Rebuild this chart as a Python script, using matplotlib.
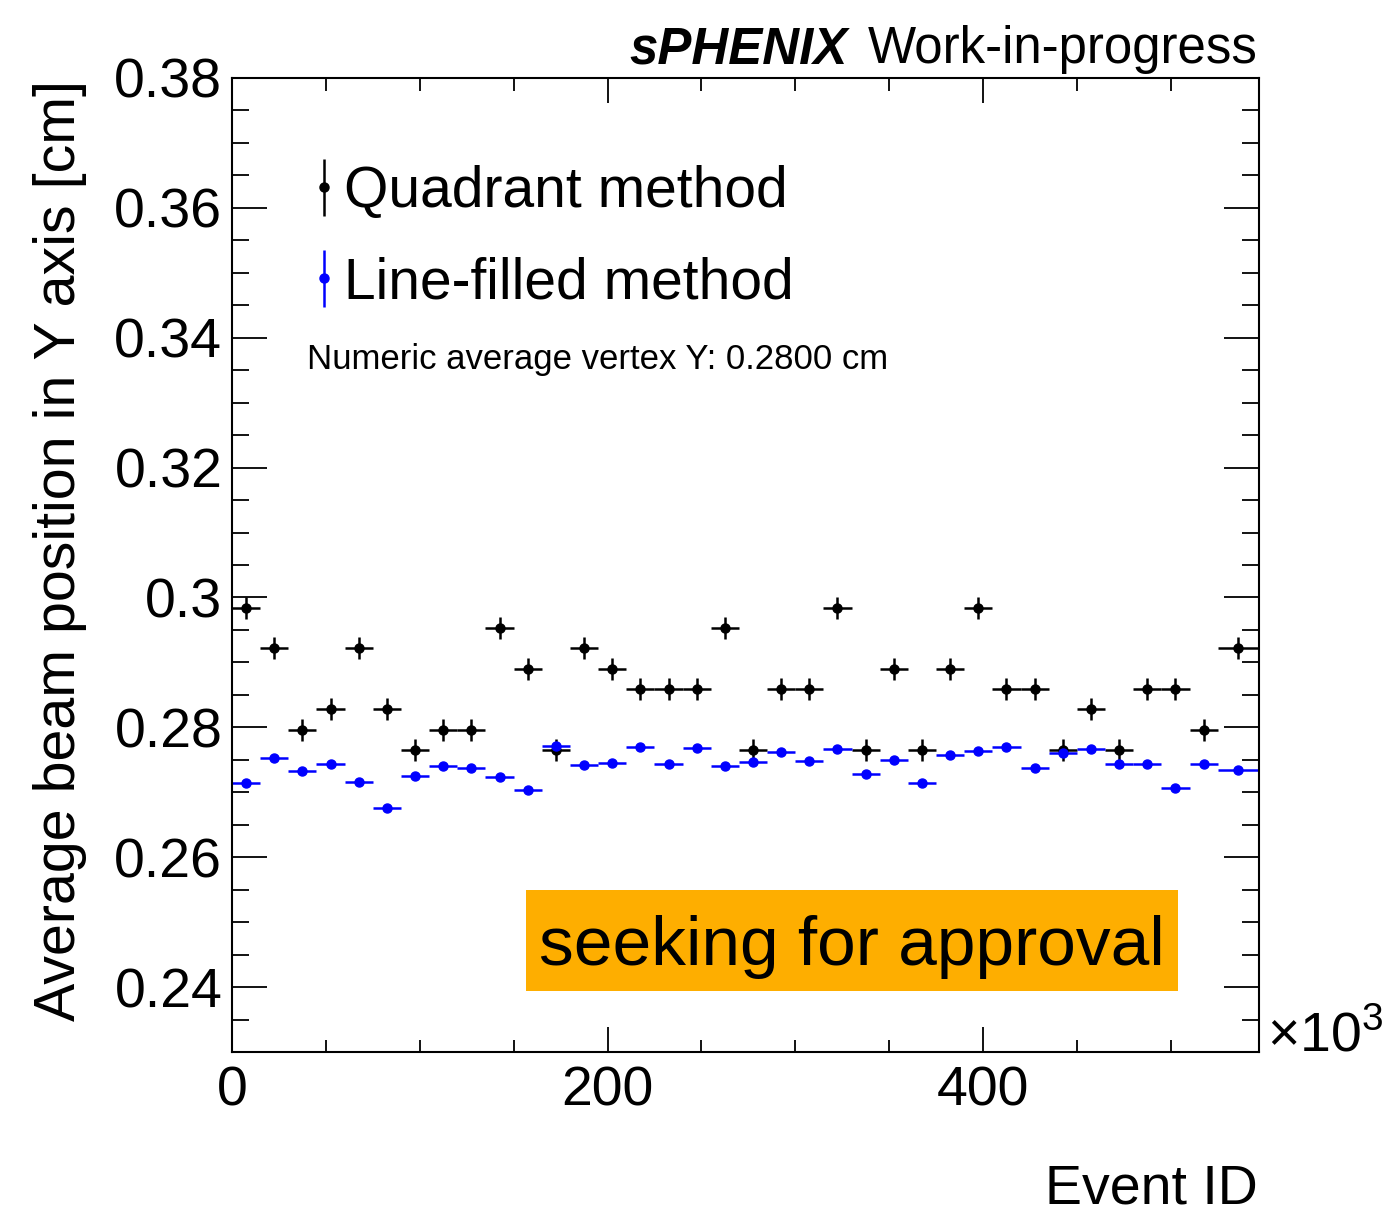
import numpy as np
import matplotlib
matplotlib.use("Agg")
import matplotlib.pyplot as plt
from matplotlib.ticker import MultipleLocator, FormatStrFormatter
from matplotlib.container import ErrorbarContainer
from matplotlib.legend_handler import HandlerErrorbar
from matplotlib.patches import Rectangle

plt.rcParams['font.family'] = ['Liberation Sans', 'DejaVu Sans']
plt.rcParams['mathtext.fontset'] = 'custom'
plt.rcParams['mathtext.rm'] = 'Liberation Sans'

# bin edges in units of 10^3 events (last bin is shorter/wider)
edges = np.append(np.arange(0, 526, 15), 547)

quadrant_y = [0.2984, 0.2922, 0.2796, 0.2828, 0.2922, 0.2828, 0.2765, 0.2796, 0.2796,
              0.2953, 0.2890, 0.2765, 0.2922, 0.2890, 0.2859, 0.2859, 0.2859, 0.2953,
              0.2765, 0.2859, 0.2859, 0.2984, 0.2765, 0.2890, 0.2765, 0.2890, 0.2984,
              0.2859, 0.2859, 0.2765, 0.2828, 0.2765, 0.2859, 0.2859, 0.2796, 0.2922]
quadrant_err = 0.00165

linefill_y = [0.2715, 0.2753, 0.2733, 0.2743, 0.2716, 0.2676, 0.2725, 0.2741, 0.2738,
              0.2723, 0.2704, 0.2771, 0.2742, 0.2745, 0.2769, 0.2743, 0.2768, 0.2741,
              0.2746, 0.2762, 0.2748, 0.2767, 0.2728, 0.2749, 0.2715, 0.2758, 0.2763,
              0.2769, 0.2738, 0.2760, 0.2766, 0.2743, 0.2743, 0.2707, 0.2744, 0.2734]
linefill_err = 0.0004

centers = 0.5 * (edges[:-1] + edges[1:])
halfw = 0.5 * np.diff(edges)

W, H = 1384, 1217
fig = plt.figure(figsize=(W / 100, H / 100), dpi=100)
ax = fig.add_axes([232 / W, 1 - 1052 / H, (1259 - 232) / W, (1052 - 78) / H])

h1 = ax.errorbar(centers, quadrant_y, xerr=halfw, yerr=quadrant_err, fmt='o', color='black',
                 ms=6.5, lw=1.8, capsize=0, label='Quadrant method')
h2 = ax.errorbar(centers, linefill_y, xerr=halfw, yerr=linefill_err, fmt='o', color='blue',
                 ms=6.5, lw=1.8, capsize=0, label='Line-filled method')

ax.set_xlim(0, 547)
ax.set_ylim(0.23, 0.38)
ax.xaxis.set_major_locator(MultipleLocator(200))
ax.xaxis.set_minor_locator(MultipleLocator(50))
ax.yaxis.set_major_locator(MultipleLocator(0.02))
ax.yaxis.set_minor_locator(MultipleLocator(0.005))
ax.yaxis.set_major_formatter(FormatStrFormatter('%g'))

for s in ax.spines.values():
    s.set_linewidth(1.5)
ax.tick_params(axis='both', which='both', direction='in', top=True, right=True,
               width=1.3, labelsize=40)
ax.tick_params(axis='x', which='major', length=18, pad=10)
ax.tick_params(axis='x', which='minor', length=9)
ax.tick_params(axis='y', which='major', length=25, pad=7)
ax.tick_params(axis='y', which='minor', length=12.5)

ax.legend(handles=[h1, h2], loc='upper left', bbox_to_anchor=(313 / W, 1 - 165 / H),
          bbox_transform=fig.transFigure, frameon=False, fontsize=41,
          handlelength=0.4, handletextpad=0.15, labelspacing=0.65, borderpad=0,
          borderaxespad=0,
          handler_map={ErrorbarContainer: HandlerErrorbar(xerr_size=0, yerr_size=0.5)})

fig.text(307 / W, 1 - 360 / H, 'Numeric average vertex Y: 0.2800 cm', fontsize=25,
         ha='left', va='center')

# approval box
fig.add_artist(Rectangle((526 / W, 1 - 991 / H), (1178 - 526) / W, (991 - 890) / H,
                         transform=fig.transFigure, facecolor='#feae00', edgecolor='none'))
fig.text(852 / W, 1 - 965 / H, 'seeking for approval', fontsize=50, ha='center',
         va='baseline')

# axis titles
fig.text(1258 / W, 1 - 1190 / H, 'Event ID', fontsize=40, ha='right', va='center')
fig.text(60 / W, 1 - 80 / H, 'Average beam position in Y axis [cm]', fontsize=41.3,
         rotation=90, ha='center', va='top')
fig.text(1267 / W, 1 - 1052 / H, r'$\times10^{3}$', fontsize=40, ha='left', va='baseline')

# header
work = fig.text(1258 / W, 1 - 63 / H, 'Work-in-progress', fontsize=36.7, ha='right',
                va='baseline')
fig.canvas.draw()
bb = work.get_window_extent()
fig.text((bb.x0 - 20) / W, 1 - 63 / H, 'sPHENIX', fontsize=36.7, fontweight='bold',
         fontstyle='italic', ha='right', va='baseline')

fig.savefig('out.png', dpi=100)
